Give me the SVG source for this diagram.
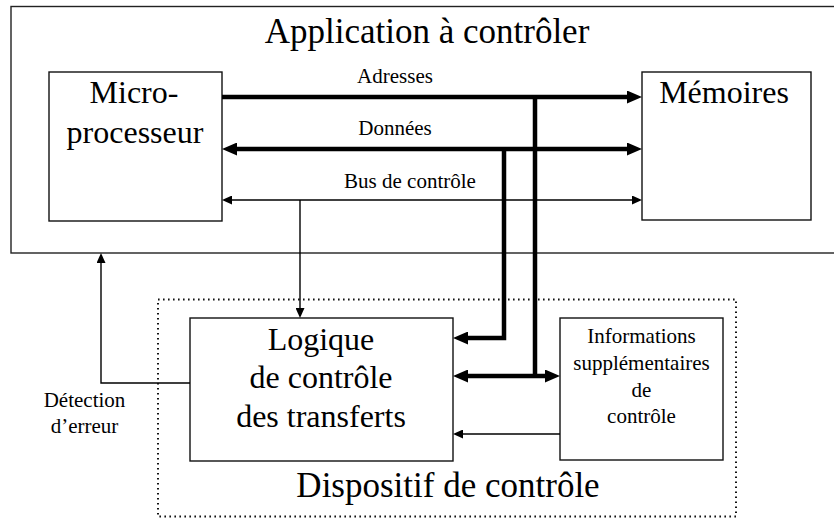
<svg xmlns="http://www.w3.org/2000/svg" width="834" height="518" viewBox="0 0 834 518">
<defs>
<marker id="ah" markerUnits="userSpaceOnUse" markerWidth="15" markerHeight="13" refX="7" refY="6.5" orient="auto-start-reverse"><path d="M0,0 L15,6.5 L0,13 z" fill="#000"/></marker>
<marker id="at" markerUnits="userSpaceOnUse" markerWidth="10" markerHeight="9" refX="8" refY="4.5" orient="auto-start-reverse"><path d="M0,0 L10,4.5 L0,9 z" fill="#000"/></marker>
</defs>
<g id="application">
<rect x="11" y="6.5" width="840" height="246.5" fill="none" stroke="#222" stroke-width="1.4"/>
<text x="427" y="43" font-family="Liberation Serif, Times New Roman, serif" font-size="35" text-anchor="middle">Application à contrôler</text>
</g>
<g id="dispositif">
<rect x="158" y="299.5" width="578" height="217" fill="none" stroke="#111" stroke-width="2" stroke-dasharray="1.6 3.4"/>
<text x="448" y="497" font-family="Liberation Serif, Times New Roman, serif" font-size="35" text-anchor="middle">Dispositif de contrôle</text>
</g>
<g id="microprocesseur">
<rect x="49" y="72" width="173" height="149" fill="#fff" stroke="#111" stroke-width="1.4"/>
<text x="134" y="103" font-family="Liberation Serif, Times New Roman, serif" font-size="32" text-anchor="middle">Micro-</text>
<text x="135" y="143" font-family="Liberation Serif, Times New Roman, serif" font-size="32" text-anchor="middle">processeur</text>
</g>
<g id="memoires">
<rect x="642" y="72" width="169" height="148" fill="#fff" stroke="#111" stroke-width="1.4"/>
<text x="724" y="103" font-family="Liberation Serif, Times New Roman, serif" font-size="32" text-anchor="middle">Mémoires</text>
</g>
<g id="logique">
<rect x="190" y="318" width="263" height="143" fill="#fff" stroke="#111" stroke-width="1.4"/>
<text x="321" y="350" font-family="Liberation Serif, Times New Roman, serif" font-size="32" text-anchor="middle">Logique</text>
<text x="321" y="388" font-family="Liberation Serif, Times New Roman, serif" font-size="32" text-anchor="middle">de contrôle</text>
<text x="321" y="427" font-family="Liberation Serif, Times New Roman, serif" font-size="32" text-anchor="middle">des transferts</text>
</g>
<g id="informations">
<rect x="560" y="318" width="163" height="142" fill="#fff" stroke="#111" stroke-width="1.4"/>
<text x="641.5" y="343" font-family="Liberation Serif, Times New Roman, serif" font-size="21" text-anchor="middle">Informations</text>
<text x="641.5" y="370" font-family="Liberation Serif, Times New Roman, serif" font-size="21" text-anchor="middle">supplémentaires</text>
<text x="641.5" y="397" font-family="Liberation Serif, Times New Roman, serif" font-size="21" text-anchor="middle">de</text>
<text x="641.5" y="423" font-family="Liberation Serif, Times New Roman, serif" font-size="21" text-anchor="middle">contrôle</text>
</g>
<g id="connectors" fill="none" stroke="#000">
<g stroke-width="4.5">
<path d="M222,97 L634,97" marker-end="url(#ah)"/>
<path d="M230,149 L634,149" marker-start="url(#ah)" marker-end="url(#ah)"/>
<path d="M504,149 L504,338 L461,338" marker-end="url(#ah)"/>
<path d="M535,97 L535,376"/>
<path d="M461,376 L552,376" marker-start="url(#ah)" marker-end="url(#ah)"/>
</g>
<g stroke-width="1.4">
<path d="M224,200 L640,200" marker-start="url(#at)" marker-end="url(#at)"/>
<path d="M300,200 L300,316" marker-end="url(#at)"/>
<path d="M560,434 L455,434" marker-end="url(#at)"/>
<path d="M190,383 L101,383 L101,255" marker-end="url(#at)"/>
</g>
</g>
<g id="connector-labels">
<text x="395" y="83" font-family="Liberation Serif, Times New Roman, serif" font-size="21" text-anchor="middle">Adresses</text>
<text x="395" y="135" font-family="Liberation Serif, Times New Roman, serif" font-size="21" text-anchor="middle">Données</text>
<text x="410" y="188" font-family="Liberation Serif, Times New Roman, serif" font-size="21" text-anchor="middle">Bus de contrôle</text>
<text x="84.5" y="407" font-family="Liberation Serif, Times New Roman, serif" font-size="21" text-anchor="middle">Détection</text>
<text x="84.5" y="433" font-family="Liberation Serif, Times New Roman, serif" font-size="21" text-anchor="middle">d’erreur</text>
</g>
</svg>
